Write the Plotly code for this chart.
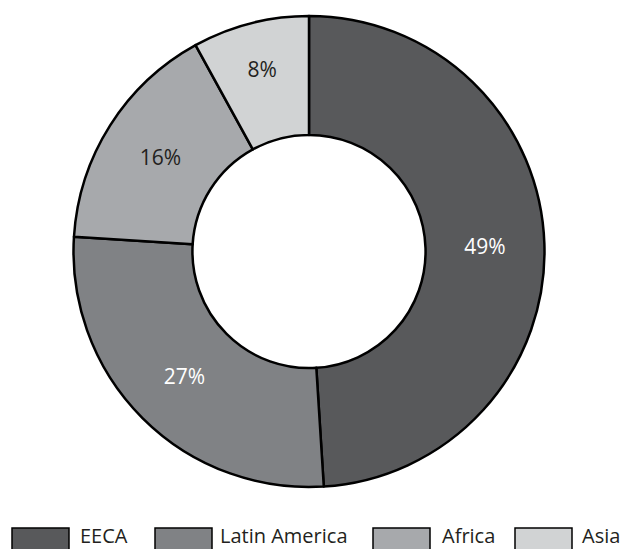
import plotly.graph_objects as go

# Share of total by region
regions = ["EECA", "Latin America", "Africa", "Asia"]
shares = [49, 27, 16, 8]
slice_colors = ["#58595b", "#808285", "#a7a9ac", "#d1d3d4"]
label_colors = ["#ffffff", "#ffffff", "#231f20", "#231f20"]

W, H = 620, 549
FONT = "Open Sans, Noto Sans, sans-serif"

fig = go.Figure(
    go.Pie(
        labels=regions,
        values=shares,
        hole=0.495,
        sort=False,
        direction="clockwise",
        rotation=0,
        marker=dict(colors=slice_colors, line=dict(color="#000000", width=2.5)),
        texttemplate="%{value}%",
        textposition="inside",
        insidetextorientation="horizontal",
        textfont=dict(family=FONT, size=21, color=label_colors),
        domain=dict(x=[73.5 / W, 544.5 / W], y=[(H - 487) / H, (H - 16) / H]),
        showlegend=False,
        hoverinfo="label+percent",
    )
)

# Custom legend row: wide swatches followed by region names
swatch_left = [12, 155, 373, 515]
text_left = [78, 218, 440, 580]
swatch_w = 57
shapes, annotations = [], []
for name, col, x0, tx in zip(regions, slice_colors, swatch_left, text_left):
    shapes.append(dict(
        type="rect", xref="paper", yref="paper",
        x0=x0 / W, x1=(x0 + swatch_w) / W,
        y0=1 - 552 / H, y1=1 - 528 / H,
        fillcolor=col, line=dict(color="#000000", width=1.5),
    ))
    annotations.append(dict(
        text=name, xref="paper", yref="paper",
        x=tx / W, y=1 - 535 / H, xanchor="left", yanchor="middle",
        showarrow=False, font=dict(family=FONT, size=20, color="#231f20"),
    ))

fig.update_layout(
    width=W, height=H,
    margin=dict(l=0, r=0, t=0, b=0),
    paper_bgcolor="#ffffff",
    plot_bgcolor="#ffffff",
    shapes=shapes,
    annotations=annotations,
)

fig.write_html("out.html")
